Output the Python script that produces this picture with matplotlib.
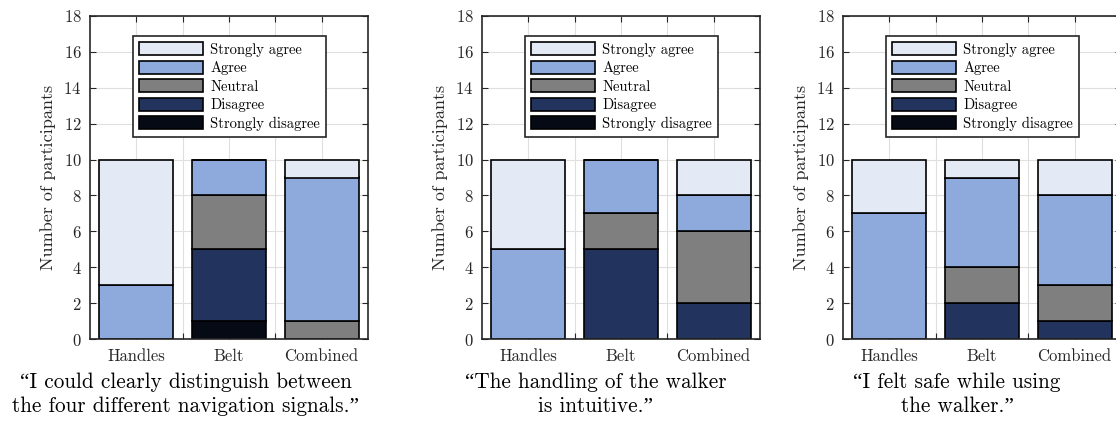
import matplotlib.pyplot as plt
import numpy as np

plt.rcParams['font.family'] = ['cmr10', 'Liberation Serif']
plt.rcParams['mathtext.fontset'] = 'cm'
plt.rcParams['axes.formatter.use_mathtext'] = True

categories = ['Handles', 'Belt', 'Combined']
levels = ['Strongly disagree', 'Disagree', 'Neutral', 'Agree', 'Strongly agree']
colors = ['#060a14', '#22335e', '#7f7f7f', '#8ea9db', '#e3eaf6']

# answer counts, one row per level (bottom to top), columns Handles / Belt / Combined
distinguish = [[0, 1, 0],
               [0, 4, 0],
               [0, 3, 1],
               [3, 2, 8],
               [7, 0, 1]]
intuitive = [[0, 0, 0],
             [0, 5, 2],
             [0, 2, 4],
             [5, 3, 2],
             [5, 0, 2]]
safe = [[0, 0, 0],
        [0, 2, 1],
        [0, 2, 2],
        [7, 5, 5],
        [3, 1, 2]]

questions = ['\u201cI could clearly distinguish between\nthe four different navigation signals.\u201d',
             '\u201cThe handling of the walker\nis intuitive.\u201d',
             '\u201cI felt safe while using\nthe walker.\u201d']

W, H = 1116, 423
fig = plt.figure(figsize=(W / 100, H / 100), dpi=100)

axes_left = [90, 482, 843]
caption_x = [186, 596, 957]
ax_w, ax_top, ax_bot = 278, 16, 339
axc = '#262626'

for i, data in enumerate([distinguish, intuitive, safe]):
    ax = fig.add_axes([axes_left[i] / W, 1 - ax_bot / H, ax_w / W, (ax_bot - ax_top) / H])
    x = np.arange(1, len(categories) + 1)
    bottom = np.zeros(len(categories))
    bars = []
    for lvl, col, vals in zip(levels, colors, data):
        b = ax.bar(x, vals, 0.8, bottom=bottom, color=col, edgecolor='black',
                   linewidth=1.2, label=lvl, zorder=3)
        bars.append(b)
        bottom += np.array(vals)

    ax.set_xlim(0.5, 3.5)
    ax.set_ylim(0, 18)
    ax.set_yticks(np.arange(0, 19, 2))
    ax.set_xticks([1, 1.5, 2, 2.5, 3])
    ax.set_xticklabels([categories[0], '', categories[1], '', categories[2]])
    ax.tick_params(direction='in', top=True, right=True, length=4, width=0.8,
                   color=axc, labelcolor=axc, labelsize=12)
    ax.tick_params(axis='x', pad=7)
    ax.tick_params(axis='y', pad=6)
    ax.grid(True, color='#dfdfdf', linewidth=0.8, zorder=0)
    ax.set_axisbelow(True)
    for s in ax.spines.values():
        s.set_color(axc)
        s.set_linewidth(1.2)
        s.set_zorder(4)
    ax.set_ylabel('Number of participants', fontsize=13, color=axc, labelpad=5)

    leg = ax.legend(bars[::-1], levels[::-1], loc='upper center',
                    bbox_to_anchor=(0.502, 0.938), borderaxespad=0, fontsize=10.5,
                    fancybox=False, framealpha=1, edgecolor=axc, handlelength=4.35,
                    handleheight=1.0, labelspacing=0.27, handletextpad=0.5,
                    borderpad=0.42)
    leg.get_frame().set_linewidth(1.2)
    leg.set_zorder(5)

    fig.text(caption_x[i] / W, 1 - 372 / H, questions[i], ha='center', va='top',
             fontsize=15.3, linespacing=1.3)

fig.savefig('out.png', dpi=100)
